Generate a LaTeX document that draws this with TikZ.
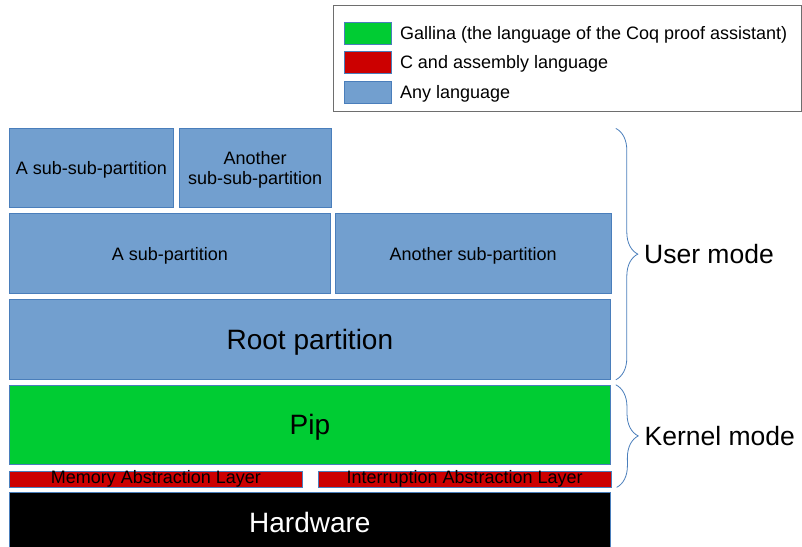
\documentclass[tikz,border=0pt]{standalone}
\usepackage{fontspec}
\setmainfont{Liberation Sans}
\usepackage{tikz}
\usetikzlibrary{positioning, decorations.pathreplacing}

\definecolor{anyblue}{RGB}{114,159,207}
\definecolor{edgeblue}{RGB}{74,126,187}
\definecolor{gallinagreen}{RGB}{0,204,51}
\definecolor{cred}{RGB}{204,0,0}
\definecolor{legendgray}{RGB}{110,110,110}

\newcommand{\smalltxt}{\fontsize{18}{20}\selectfont}
\newcommand{\bigtxt}{\fontsize{28}{30}\selectfont}
\newcommand{\modetxt}{\fontsize{26.5}{28}\selectfont}

\begin{document}
\begin{tikzpicture}[
    x=1pt, y=-1pt,
    blk/.style={rectangle, draw=edgeblue, line width=0.8pt, fill=anyblue, align=center, inner sep=1pt, text depth=0pt, font=\smalltxt},
    layer/.style={blk, fill=cred, minimum width=293pt, minimum height=16pt, text height=12pt, text depth=3pt, inner sep=0.5pt},
    swatch/.style={rectangle, draw=edgeblue, line width=0.8pt, minimum width=47pt, minimum height=22pt, inner sep=0pt},
    lbl/.style={inner sep=2pt, text depth=0pt, font=\smalltxt, anchor=west},
    modebrace/.style={draw=edgeblue, line width=0.8pt, decorate, decoration={brace, amplitude=22pt}}
]
    \useasboundingbox (0,0) rectangle (802,546);

    % legend
    \node[draw=legendgray, line width=0.8pt, minimum width=468pt, minimum height=106pt, anchor=north west] (legend) at (333,5) {};
    \node[swatch, fill=gallinagreen, anchor=north west] (swG) at (344,22) {};
    \node[swatch, fill=cred, below=6pt of swG] (swR) {};
    \node[swatch, fill=anyblue, below=7pt of swR] (swB) {};
    \node[lbl, right=6pt of swG] (txtG) {Gallina (the language of the Coq proof assistant)};
    \node[lbl, right=6pt of swR] (txtR) {C and assembly language};
    \node[lbl, right=6pt of swB] (txtB) {Any language};

    % partitions
    \node[blk, anchor=north west, minimum width=601pt, minimum height=80pt, font=\bigtxt] (root) at (9,299) {Root partition};
    \node[blk, above right=5pt and 0pt of root.north west, minimum width=321pt, minimum height=80pt] (subA) {A sub-partition};
    \node[blk, right=4pt of subA, minimum width=276pt, minimum height=80pt] (subB) {Another sub-partition};
    \node[blk, above right=5pt and 0pt of subA.north west, minimum width=164pt, minimum height=79pt] (subsubA) {A sub-sub-partition};
    \node[blk, right=5pt of subsubA, minimum width=152pt, minimum height=79pt] (subsubB) {Another\\sub-sub-partition};

    % kernel
    \node[blk, fill=gallinagreen, below right=5pt and 0pt of root.south west, minimum width=601pt, minimum height=79pt, font=\bigtxt] (pip) {Pip};
    \node[layer, below right=6pt and 0pt of pip.south west] (mal) {Memory Abstraction Layer};
    \node[layer, right=15pt of mal] (ial) {Interruption Abstraction Layer};

    % hardware
    \node[blk, fill=black, text=white, below right=5pt and 0pt of mal.south west, minimum width=601pt, minimum height=60pt, font=\bigtxt] (hw) {Hardware};

    % modes
    \draw[modebrace] ([xshift=5pt]subsubA.north -| root.east) -- ([xshift=5pt]root.south east)
        node[midway, anchor=west, xshift=26pt, inner sep=2pt, text depth=0pt, font=\modetxt] (user) {User mode};
    \draw[modebrace] ([xshift=5pt]pip.north east) -- ([xshift=5pt]ial.south east)
        node[midway, anchor=west, xshift=26pt, inner sep=2pt, text depth=0pt, font=\modetxt] (kernel) {Kernel mode};
\end{tikzpicture}
\end{document}
